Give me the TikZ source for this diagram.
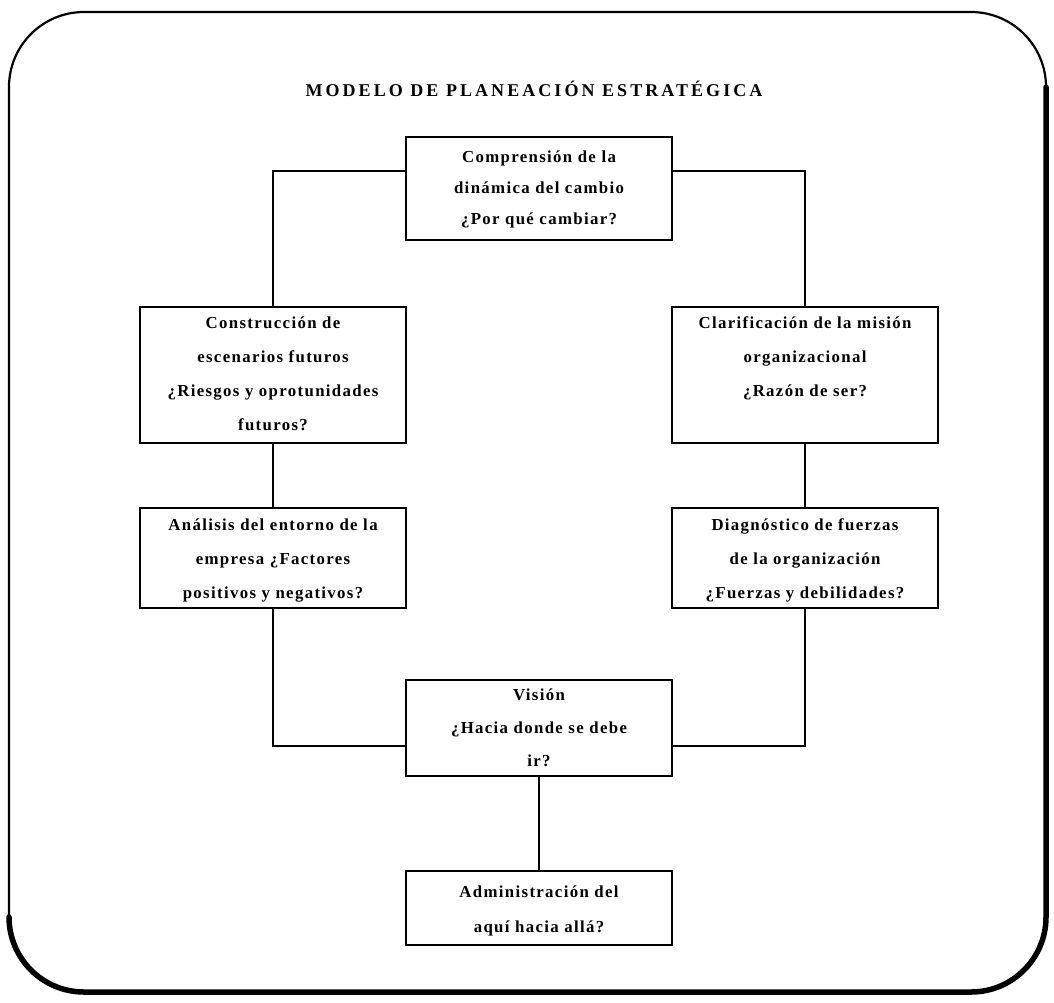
\documentclass[tikz,border=0pt]{standalone}
\usepackage{fontspec}
\usetikzlibrary{calc}
\setmainfont{Liberation Serif}
\newfontfamily\boxfam[LetterSpace=8]{Liberation Serif}
\newfontfamily\titlefam[LetterSpace=17]{Liberation Serif}
\newcommand\boxtext[4]{\parbox[c][#1pt][t]{266pt}{\centering\setlength{\baselineskip}{#3pt}\rule{0pt}{#2pt}#4\par}}
\tikzset{
  stepbox/.style={draw, line width=1.8pt, inner sep=0pt, fill=white,
    font=\boxfam\bfseries\fontsize{16.8}{33}\selectfont},
  link/.style={line width=1.8pt},
  titlestyle/.style={anchor=base, inner sep=0pt, font=\titlefam\bfseries\fontsize{18}{20}\selectfont}
}
\begin{document}
\begin{tikzpicture}[x=1pt, y=-1pt]
\useasboundingbox[fill=white] (0,0) rectangle (1054,1002);
% frame
\draw[line width=2.2pt, rounded corners=75pt] (9,12) rectangle (1046,992);
\draw[line width=5.5pt, rounded corners=75pt, line cap=round] (1046,87) -- (1046,992) -- (9,992) -- (9,917);
% title
\node[titlestyle] (title) at (534,96) {MODELO DE PLANEACIÓN ESTRATÉGICA};
% boxes
\node[stepbox] (comp) at (539,188.5) {\boxtext{103}{25}{31}{Comprensión de la\\dinámica del cambio\\¿Por qué cambiar?}};
\node[stepbox] (cons) at (273,375) {\boxtext{136}{21}{34}{Construcción de\\escenarios futuros\\¿Riesgos y oprotunidades\\futuros?}};
\node[stepbox] (clar) at (805,375) {\boxtext{136}{21}{34}{Clarificación de la misión\\organizacional\\¿Razón de ser?}};
\node[stepbox] (anal) at (273,558) {\boxtext{100}{22}{34}{Análisis del entorno de la\\empresa ¿Factores\\positivos y negativos?}};
\node[stepbox] (diag) at (805,558) {\boxtext{100}{22}{34}{Diagnóstico de fuerzas\\de la organización\\¿Fuerzas y debilidades?}};
\node[stepbox] (vis) at (539,728) {\boxtext{96}{20}{33}{Visión\\¿Hacia donde se debe\\ir?}};
\node[stepbox] (adm) at (539,908) {\boxtext{74}{26}{35}{Administración del\\aquí hacia allá?}};
% connectors
\coordinate (cl) at ($(comp.north west)+(0,35)$);
\coordinate (cr) at ($(comp.north east)+(0,35)$);
\coordinate (vl) at ($(vis.south west)+(0,-31)$);
\coordinate (vr) at ($(vis.south east)+(0,-31)$);
\draw[link] (cl) -| (cons.north);
\draw[link] (cr) -| (clar.north);
\draw[link] (cons.south) -- (anal.north);
\draw[link] (clar.south) -- (diag.north);
\draw[link] (anal.south) |- (vl);
\draw[link] (diag.south) |- (vr);
\draw[link] (vis.south) -- (adm.north);
\end{tikzpicture}
\end{document}
